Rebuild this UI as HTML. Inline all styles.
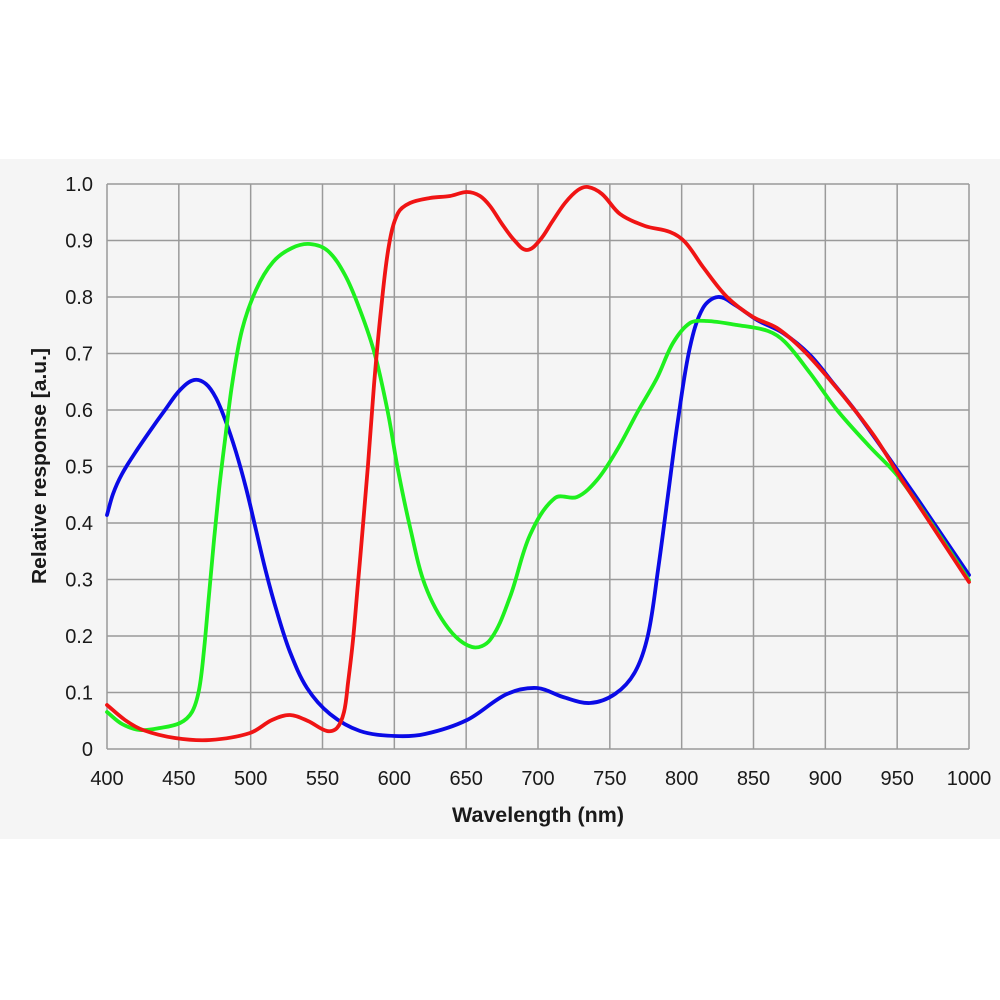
<!DOCTYPE html>
<html>
<head>
<meta charset="utf-8">
<style>
  html, body { margin:0; padding:0; background:#ffffff; }
  body { width:1000px; height:1000px; overflow:hidden; }
  svg { display:block; }
  text { font-family: "Liberation Sans", "DejaVu Sans", sans-serif; fill:#1a1a1a; }
</style>
</head>
<body>
<svg id="chart" width="1000" height="1000" viewBox="0 0 1000 1000" xmlns="http://www.w3.org/2000/svg">
  <rect x="0" y="0" width="1000" height="1000" fill="#ffffff"/>
  <rect x="0" y="159" width="1000" height="680" fill="#f5f5f5"/>
  <g id="grid" stroke="#9a9a9a" stroke-width="1.5" fill="none"></g>
  <g id="ylabels" font-size="20" text-anchor="end"></g>
  <g id="xlabels" font-size="20" text-anchor="middle"></g>
  <text x="538" y="822" font-size="21" font-weight="bold" text-anchor="middle" textLength="172" lengthAdjust="spacingAndGlyphs">Wavelength (nm)</text>
  <text transform="translate(46,466) rotate(-90)" font-size="20" font-weight="bold" text-anchor="middle" textLength="236" lengthAdjust="spacingAndGlyphs">Relative response [a.u.]</text>
  <g id="curves" fill="none" stroke-width="3.8" stroke-linejoin="round" stroke-linecap="round">
    <path id="blue" stroke="#0a0ae6"/>
    <path id="green" stroke="#1ef01e"/>
    <path id="red" stroke="#f01414"/>
  </g>
</svg>
<script>
(function(){
  var NS="http://www.w3.org/2000/svg";
  var x0=107, x1=969, y0=749, y1=184;
  var grid=document.getElementById('grid');
  var yl=document.getElementById('ylabels');
  var xl=document.getElementById('xlabels');
  for(var i=0;i<=12;i++){
    var x=x0+(x1-x0)*i/12;
    var l=document.createElementNS(NS,'line');
    l.setAttribute('x1',x);l.setAttribute('x2',x);l.setAttribute('y1',y1);l.setAttribute('y2',y0);
    grid.appendChild(l);
    var t=document.createElementNS(NS,'text');
    t.setAttribute('x',x);t.setAttribute('y',785);
    t.textContent=String(400+50*i);
    xl.appendChild(t);
  }
  for(var j=0;j<=10;j++){
    var y=y0-(y0-y1)*j/10;
    var l2=document.createElementNS(NS,'line');
    l2.setAttribute('x1',x0);l2.setAttribute('x2',x1);l2.setAttribute('y1',y);l2.setAttribute('y2',y);
    grid.appendChild(l2);
    var t2=document.createElementNS(NS,'text');
    t2.setAttribute('x',93);t2.setAttribute('y',y+7);
    t2.textContent = j===0 ? '0' : (j===10 ? '1.0' : '0.'+j);
    yl.appendChild(t2);
  }
  function tan(p,i){
    var a=p[i-1]||p[i], c=p[i+1]||p[i];
    var dx=c[0]-a[0], dy=c[1]-a[1];
    var L=Math.sqrt(dx*dx+dy*dy)||1;
    return [dx/L,dy/L];
  }
  function smooth(p){
    var d='M'+p[0][0]+','+p[0][1];
    for(var i=0;i<p.length-1;i++){
      var b=p[i], c=p[i+1];
      var dx=c[0]-b[0], dy=c[1]-b[1];
      var s=Math.sqrt(dx*dx+dy*dy)/3;
      var tb=tan(p,i), tc=tan(p,i+1);
      d+=' C'+(b[0]+tb[0]*s).toFixed(1)+','+(b[1]+tb[1]*s).toFixed(1)+' '+(c[0]-tc[0]*s).toFixed(1)+','+(c[1]-tc[1]*s).toFixed(1)+' '+c[0]+','+c[1];
    }
    return d;
  }
  var blue=[[107,515],[113,494],[122,474],[135,453],[150,431],[165,410],[180,390],[194,380],[206,384],[216,398],[226,422],[236,452],[246,488],[256,530],[266,572],[277,612],[290,652],[307,688],[330,714],[360,731],[395,736],[425,734],[467,720],[507,694],[537,688],[563,697],[590,703],[615,694],[635,672],[648,635],[658,570],[668,495],[678,420],[690,347],[703,308],[718,297],[735,305],[757,320],[783,333],[810,355],[833,383],[857,413],[903,478],[923,507],[969,575]];
  var green=[[107,712],[122,724],[140,730],[160,728],[180,723],[192,712],[199,690],[204,650],[209,595],[214,540],[219,490],[225,440],[232,385],[242,330],[256,290],[273,262],[292,248],[310,244],[328,251],[345,275],[360,310],[375,355],[388,413],[398,470],[410,527],[425,585],[448,628],[472,647],[490,640],[510,597],[530,535],[555,498],[577,497],[597,480],[617,450],[637,413],[657,378],[673,343],[690,323],[707,321],[737,325],[768,331],[785,342],[810,373],[837,410],[870,447],[897,475],[923,511],[969,580]];
  var red=[[107,705],[125,720],[143,730],[175,738],[210,740],[250,733],[272,720],[290,715],[308,721],[327,731],[337,728],[344,712],[348,683],[353,640],[358,583],[363,525],[368,465],[374,385],[381,310],[389,245],[398,213],[410,203],[430,198],[450,196],[467,192],[480,196],[490,206],[502,224],[515,241],[527,250],[540,240],[552,222],[565,203],[578,190],[588,187],[602,194],[620,214],[645,226],[670,232],[685,242],[703,267],[727,297],[753,317],[777,328],[803,350],[830,380],[857,413],[877,440],[900,477],[923,512],[969,582]];
  document.getElementById('blue').setAttribute('d',smooth(blue));
  document.getElementById('green').setAttribute('d',smooth(green));
  document.getElementById('red').setAttribute('d',smooth(red));
})();
</script>
</body>
</html>
